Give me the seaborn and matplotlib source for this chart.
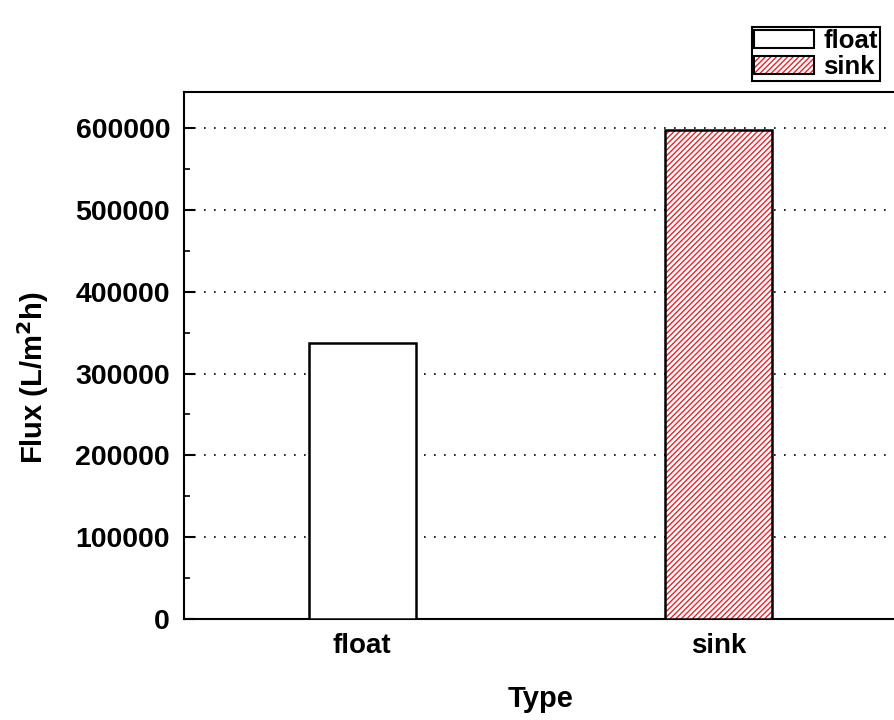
import numpy as np
import matplotlib.pyplot as plt
import pandas as pd
import seaborn as sns
from matplotlib.patches import Patch, Rectangle
from matplotlib.legend_handler import HandlerTuple
from matplotlib.ticker import MultipleLocator

types = ["float", "sink"]
flux = [337000, 598000]
y_ticks = [0, 100000, 200000, 300000, 400000, 500000, 600000]

sns.set_style("ticks")
plt.rcParams["font.family"] = ["Liberation Sans", "DejaVu Sans"]
plt.rcParams["font.weight"] = "bold"
plt.rcParams["text.color"] = "black"
plt.rcParams["xtick.color"] = "black"
plt.rcParams["ytick.color"] = "black"
plt.rcParams["axes.labelcolor"] = "black"
plt.rcParams["hatch.linewidth"] = 1.0

df = pd.DataFrame({"Type": types, "Flux": flux})

fig = plt.figure(figsize=(8.94, 7.2), dpi=100)
ax = fig.add_axes([0.2058, 0.1403, 0.7975, 0.7319])
sns.barplot(data=df, x="Type", y="Flux", order=types, color="white",
            width=0.3, edgecolor="black", linewidth=1.8, ax=ax, zorder=3)

# sink bar gets red hatch, redraw black outline on top
sink = ax.patches[1]
sink.set_edgecolor("#e8232a")
sink.set_hatch("//////")
sink.set_linewidth(0)
ax.add_patch(Rectangle(sink.get_xy(), sink.get_width(), sink.get_height(),
                       fill=False, edgecolor="black", linewidth=1.8, zorder=4))

ax.set_xlim(-0.5, 1.5)
ax.set_ylim(0, 644000)
ax.set_yticks(y_ticks)
ax.yaxis.set_minor_locator(MultipleLocator(50000))
ax.yaxis.grid(True, which="major", linestyle=(0, (1, 5)), color="black", linewidth=1.2)
ax.set_axisbelow(True)

ax.tick_params(axis="y", which="major", direction="in", length=8, width=1.5, labelsize=20.5, pad=10)
ax.tick_params(axis="y", which="minor", direction="in", length=4, width=1.2)
ax.tick_params(axis="x", length=0, labelsize=20, pad=10)
for lab in ax.get_xticklabels() + ax.get_yticklabels():
    lab.set_fontweight("bold")
for s in ax.spines.values():
    s.set_linewidth(1.5)
    s.set_color("black")

ax.set_xlabel("Type", fontsize=21, fontweight="bold", labelpad=19)
ax.set_ylabel("Flux (L/m$^\\mathbf{2}$h)", fontsize=21, fontweight="bold")
ax.yaxis.set_label_coords(-0.186, 0.458)

h_float = Patch(facecolor="white", edgecolor="black", linewidth=1.5)
h_sink = (Patch(facecolor="white", edgecolor="#e8232a", hatch="//////", linewidth=0),
          Patch(fill=False, edgecolor="black", linewidth=1.5))
leg = fig.legend([h_float, h_sink], types, handler_map={tuple: HandlerTuple(ndivide=1, pad=0)},
                 loc="upper left", bbox_to_anchor=(752 / 894, 1 - 27 / 720),
                 frameon=True, fancybox=False, edgecolor="black", framealpha=1,
                 prop={"size": 18.5, "weight": "bold"}, handlelength=2.35, handleheight=0.7,
                 handletextpad=0.35, borderpad=0.08, labelspacing=0.06, borderaxespad=0)
leg.get_frame().set_linewidth(1.5)

fig.savefig("out.png", dpi=100)
